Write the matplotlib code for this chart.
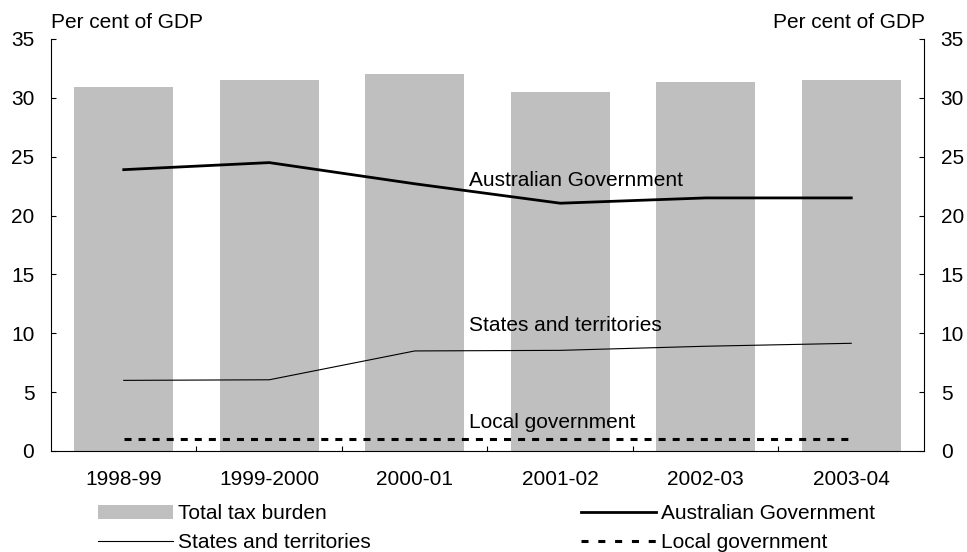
import matplotlib
matplotlib.use("Agg")
import matplotlib.pyplot as plt
from matplotlib.patches import Patch
from matplotlib.lines import Line2D
import numpy as np

plt.rcParams['font.family'] = ['Liberation Sans', 'DejaVu Sans']

years = ['1998-99', '1999-2000', '2000-01', '2001-02', '2002-03', '2003-04']
total_tax = [30.9, 31.5, 32.0, 30.5, 31.35, 31.55]
aus_gov = [23.9, 24.5, 22.7, 21.05, 21.5, 21.5]
states = [6.0, 6.05, 8.5, 8.55, 8.9, 9.15]
local_gov = [1.0, 1.0, 1.0, 1.0, 1.0, 1.0]

fs = 15
dotted = (0, (2.3, 2.3))
fig = plt.figure(figsize=(9.67, 5.52), dpi=100)
ax = fig.add_axes([51/967, 1-451/552, (924-51)/967, (451-39)/552])
x = np.arange(len(years))

ax.bar(x, total_tax, width=0.68, color='#BFBFBF', zorder=1)
ax.plot(x, aus_gov, color='black', lw=2.0, zorder=3)
ax.plot(x, states, color='black', lw=0.8, zorder=3)
ax.plot(x, local_gov, color='black', lw=2.2, linestyle=dotted, zorder=3)

ax.text(2.37, 23.0, 'Australian Government', fontsize=fs, va='center', ha='left')
ax.text(2.37, 10.7, 'States and territories', fontsize=fs, va='center', ha='left')
ax.text(2.37, 2.4, 'Local government', fontsize=fs, va='center', ha='left')

ax.set_xlim(-0.5, len(years) - 0.5)
ax.set_ylim(0, 35)
ax.set_yticks(range(0, 36, 5))
ax.set_xticks(x)
ax.set_xticklabels(years, fontsize=fs)
ax.set_xticks(np.arange(0.5, len(years) - 1, 1), minor=True)
ax.tick_params(axis='x', which='major', length=0, pad=14)
ax.tick_params(axis='x', which='minor', length=3.6, direction='in', width=0.8)
ax.tick_params(axis='y', which='major', direction='in', length=3.6, width=0.8,
               labelsize=fs, pad=12, right=True, labelright=True)
ax.spines['top'].set_visible(False)
for s in ['left', 'right', 'bottom']:
    ax.spines[s].set_linewidth(0.8)

fig.text(51/967, 1-23/552, 'Per cent of GDP', fontsize=fs, va='center', ha='left')
fig.text(925/967, 1-23/552, 'Per cent of GDP', fontsize=fs, va='center', ha='right')

common = dict(loc='upper left', frameon=False, fontsize=fs, handlelength=3.6,
              handleheight=0.67, handletextpad=0.25, labelspacing=0.47,
              borderpad=0, borderaxespad=0)
leg1 = fig.legend([Patch(facecolor='#BFBFBF', edgecolor='none'),
                   Line2D([], [], color='black', lw=0.8)],
                  ['Total tax burden', 'States and territories'],
                  bbox_to_anchor=(98/967, 1-504/552), **common)
leg2 = fig.legend([Line2D([], [], color='black', lw=2.0),
                   Line2D([], [], color='black', lw=2.2, linestyle=(0, (2.3, 3.2)))],
                  ['Australian Government', 'Local government'],
                  bbox_to_anchor=(581/967, 1-504/552), **common)

fig.savefig('out.png', dpi=100)
